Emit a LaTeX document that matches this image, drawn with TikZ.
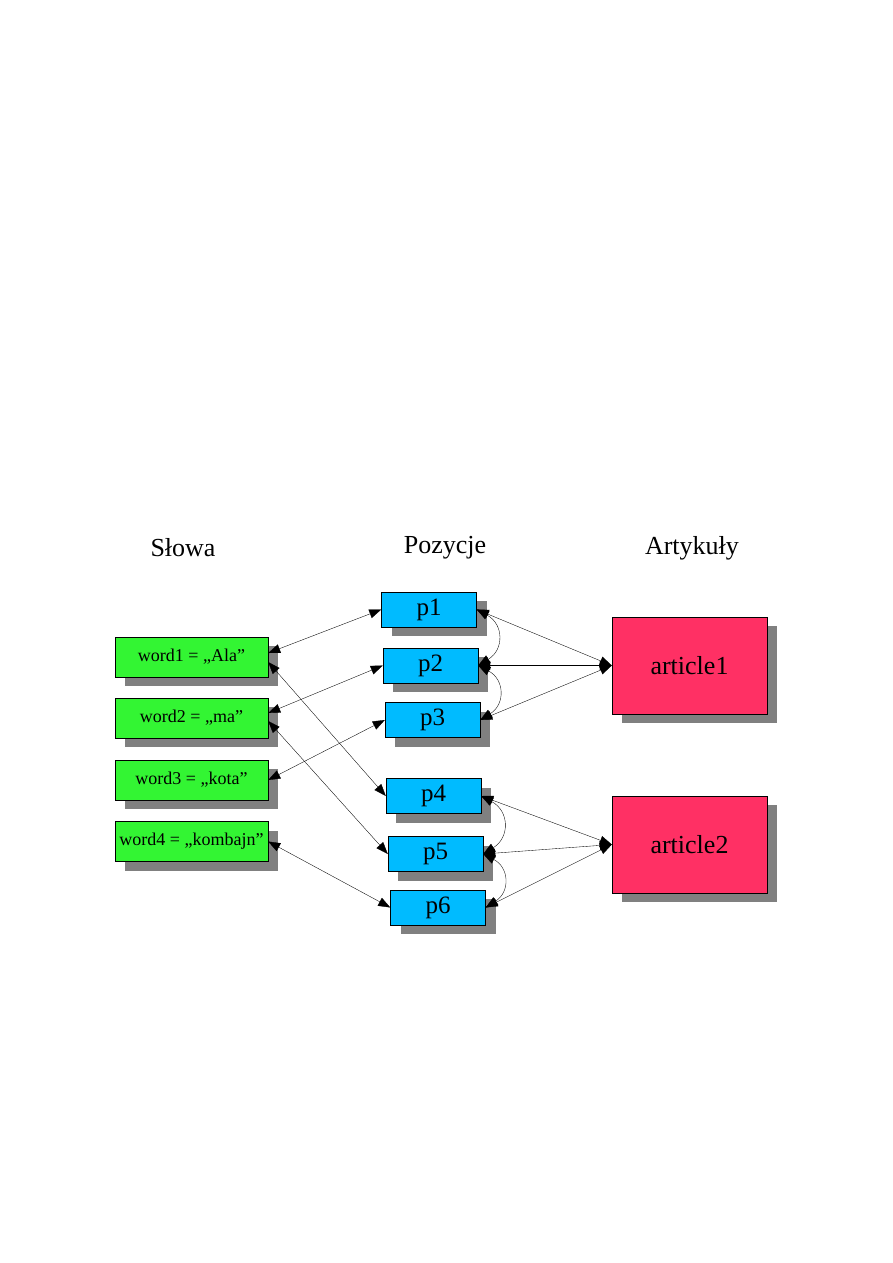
\documentclass[tikz,border=0pt]{standalone}
\usepackage{fontspec}
\setmainfont{Liberation Serif}
\usetikzlibrary{arrows.meta,shadows}

\definecolor{wordgreen}{RGB}{51,245,51}
\definecolor{posblue}{RGB}{0,187,255}
\definecolor{artpink}{RGB}{255,48,100}

\begin{document}
\begin{tikzpicture}[
    x=1pt, y=-1pt,
    grayshadow/.style={drop shadow={shadow xshift=10pt, shadow yshift=-9pt, fill=gray, opacity=1}},
    wordbox/.style={draw, thin, fill=wordgreen, grayshadow, minimum width=153pt, minimum height=40pt, inner sep=0pt, font=\fontsize{18}{20}\selectfont},
    posbox/.style={draw, thin, fill=posblue, grayshadow, minimum width=95pt, minimum height=35pt, inner sep=0pt, font=\fontsize{25}{27}\selectfont},
    artbox/.style={draw, thin, fill=artpink, grayshadow, minimum width=155pt, minimum height=97pt, inner sep=0pt, font=\fontsize{26}{28}\selectfont},
    head/.style={font=\fontsize{26}{28}\selectfont},
    arr/.style={<->, line width=0.35pt, >={Triangle[length=12pt,width=9pt]}}
]
\useasboundingbox (0,0) rectangle (893,1263);

% Column titles
\node[head] (hw) at (183,548) {Słowa};
\node[head] (hp) at (445,548) {Pozycje};
\node[head] (ha) at (692,548) {Artykuły};

% Words
\node[wordbox] (w1) at (191.5,657) {word1 = „Ala”};
\node[wordbox] (w2) at (191.5,718) {word2 = „ma”};
\node[wordbox] (w3) at (191.5,780) {word3 = „kota”};
\node[wordbox] (w4) at (191.5,841.5) {word4 = „kombajn”};

% Positions
\node[posbox] (p1) at (429,609.5) {p1};
\node[posbox] (p2) at (430.5,665.5) {p2};
\node[posbox] (p3) at (432.5,720) {p3};
\node[posbox] (p4) at (433.5,796) {p4};
\node[posbox] (p5) at (435.5,854) {p5};
\node[posbox] (p6) at (438,907.5) {p6};

% Articles
\node[artbox] (a1) at (689.5,665.5) {article1};
\node[artbox] (a2) at (689.5,844.5) {article2};

% Words to positions
\draw[arr] ([yshift=4pt]w1.east) -- (p1.west);
\draw[arr] ([yshift=-5pt]w1.east) -- (p4.west);
\draw[arr] ([yshift=5pt]w2.east) -- (p2.west);
\draw[arr] ([yshift=-3pt]w2.east) -- (p5.west);
\draw[arr] (w3.east) -- (p3.west);
\draw[arr] (w4.east) -- (p6.west);

% Positions to articles
\draw[arr] (p1.east) -- (a1.west);
\draw[arr] (p2.east) -- (a1.west);
\draw[arr] (p3.east) -- (a1.west);
\draw[arr] (p4.east) -- (a2.west);
\draw[arr] (p5.east) -- (a2.west);
\draw[arr] (p6.east) -- (a2.west);

% Neighbouring positions
\draw[arr] (p1.east) to[bend left=60, looseness=1.4] (p2.east);
\draw[arr] (p2.east) to[bend left=60, looseness=1.4] (p3.east);
\draw[arr] (p4.east) to[bend left=60, looseness=1.4] (p5.east);
\draw[arr] (p5.east) to[bend left=60, looseness=1.4] (p6.east);
\end{tikzpicture}
\end{document}
